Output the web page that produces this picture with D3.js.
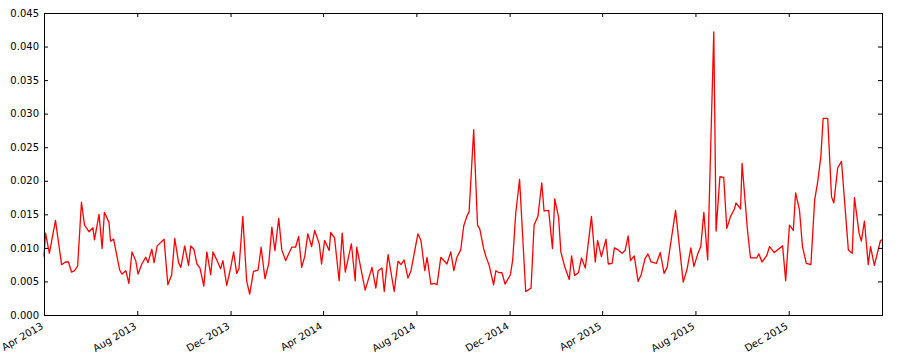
<!DOCTYPE html>
<html>
<head>
<meta charset="utf-8">
<script src="https://cdn.jsdelivr.net/npm/d3@7"></script>
<style>
  body { margin: 0; background: #fff; }
  text { font-family: "DejaVu Sans", sans-serif; }
</style>
</head>
<body>
<script>
//constants
const w = 899;
const h = 357;
const margin = {top: 13, right: 17, bottom: 42, left: 44};

//data: days since startDate, and the value on that day
const startDate = "2013-04-01";
const endDate = "2016-04-01";
const dayOffsets = [
  0,2,7,15,23,28,32,36,40,44,
  49,53,59,64,66,72,76,79,85,87,
  91,99,102,107,111,115,120,123,128,133,
  136,141,144,148,157,162,167,171,176,179,
  184,189,192,196,200,204,209,213,218,221,
  226,231,234,239,244,248,252,255,260,265,
  269,274,280,284,289,294,298,302,307,311,
  316,324,329,333,337,341,345,350,354,360,
  363,367,373,375,380,386,390,394,402,407,
  409,420,429,434,437,442,445,450,458,463,
  467,471,476,480,489,493,498,501,506,511,
  514,519,527,532,536,540,545,549,553,556,
  562,567,570,575,578,582,588,591,595,599,
  603,610,613,617,622,630,637,641,646,651,
  654,660,665,668,673,676,681,687,690,694,
  699,703,708,716,721,724,729,735,738,743,
  746,751,756,760,764,767,772,777,781,786,
  790,794,801,806,811,815,826,836,841,846,
  850,855,859,863,868,876,879,884,889,893,
  898,903,905,911,913,920,924,932,935,939,
  945,949,955,966,970,975,980,983,988,992,
  997,1003,1008,1012,1016,1019,1025,1030,1033,1038,
  1043,1052,1057,1060,1066,1069,1073,1078,1081,1086,
  1094,1096
];
const values = [
  .0087,.0122,.0092,.0141,.0075,.0079,.0079,.0064,.0066,.0073,
  .0168,.0134,.0124,.0130,.0112,.0150,.0099,.0153,.0138,.0110,
  .0113,.0067,.0061,.0066,.0047,.0094,.0081,.0061,.0076,.0086,
  .0078,.0098,.0078,.0103,.0113,.0045,.0060,.0114,.0078,.0071,
  .0103,.0074,.0103,.0098,.0076,.0070,.0043,.0094,.0060,.0094,
  .0082,.0069,.0081,.0044,.0070,.0094,.0062,.0069,.0147,.0051,
  .0031,.0065,.0067,.0101,.0054,.0077,.0131,.0096,.0144,.0097,
  .0081,.0101,.0101,.0117,.0071,.0087,.0121,.0102,.0126,.0106,
  .0076,.0111,.0096,.0123,.0115,.0051,.0122,.0064,.0106,.0051,
  .0101,.0037,.0071,.0040,.0066,.0070,.0035,.0090,.0035,.0080,
  .0075,.0082,.0055,.0066,.0121,.0111,.0066,.0086,.0046,.0047,
  .0045,.0086,.0076,.0094,.0066,.0086,.0097,.0133,.0147,.0154,
  .0276,.0134,.0128,.0099,.0087,.0075,.0045,.0066,.0063,.0063,
  .0046,.0060,.0082,.0152,.0202,.0035,.0040,.0134,.0147,.0197,
  .0155,.0156,.0099,.0173,.0146,.0094,.0072,.0053,.0088,.0059,
  .0063,.0085,.0070,.0147,.0079,.0111,.0087,.0113,.0076,.0077,
  .0100,.0097,.0092,.0096,.0118,.0081,.0088,.0050,.0060,.0084,
  .0091,.0079,.0077,.0093,.0062,.0071,.0156,.0049,.0068,.0100,
  .0072,.0091,.0102,.0153,.0082,.0422,.0125,.0206,.0205,.0129,
  .0147,.0158,.0167,.0158,.0226,.0127,.0085,.0085,.0091,.0079,
  .0088,.0102,.0093,.0103,.0051,.0134,.0126,.0182,.0157,.0102,
  .0077,.0075,.0172,.0199,.0236,.0293,.0293,.0176,.0167,.0219,
  .0229,.0097,.0092,.0175,.0122,.0110,.0140,.0075,.0102,.0074,
  .0111,.0112
];

//tick labels
const xTickDates = ["2013-04-01","2013-08-01","2013-12-01","2014-04-01","2014-08-01",
                    "2014-12-01","2015-04-01","2015-08-01","2015-12-01"];
const xTickLabels = ["Apr 2013","Aug 2013","Dec 2013","Apr 2014","Aug 2014",
                     "Dec 2014","Apr 2015","Aug 2015","Dec 2015"];
const yTicks = [0,0.005,0.010,0.015,0.020,0.025,0.030,0.035,0.040,0.045];

const parse = d3.timeParse("%Y-%m-%d");
const start = parse(startDate);

const n = Math.min(dayOffsets.length, values.length);
const data = d3.range(n).map(i => ({
  date: d3.timeDay.offset(start, dayOffsets[i]),
  value: values[i]
}));

const iw = w - margin.left - margin.right;
const ih = h - margin.top - margin.bottom;

//scales
const xScale = d3.scaleTime()
  .domain([start, parse(endDate)])
  .range([0, iw]);

const yScale = d3.scaleLinear()
  .domain([0, 0.045])
  .range([ih, 0]);

//svg
const svg = d3.select("body")
  .append("svg")
  .attr("width", w)
  .attr("height", h);

const g = svg.append("g")
  .attr("transform", "translate(" + margin.left + "," + margin.top + ")");

//line
const line = d3.line()
  .x(d => xScale(d.date))
  .y(d => yScale(d.value));

g.append("path")
  .datum(data)
  .attr("fill", "none")
  .attr("stroke", "#ff0000")
  .attr("stroke-width", 1.3)
  .attr("stroke-linejoin", "round")
  .attr("d", line);

//axes, ticks point inwards like matplotlib
const xDates = xTickDates.map(parse);
const fmtX = d => xTickLabels[xDates.findIndex(t => +t === +d)];

const xBottom = g.append("g")
  .attr("transform", "translate(0," + ih + ")")
  .call(d3.axisBottom(xScale).tickValues(xDates).tickSize(-4).tickFormat(fmtX));

xBottom.selectAll("text")
  .attr("font-size", 10)
  .attr("fill", "#000")
  .attr("text-anchor", "end")
  .attr("y", 0)
  .attr("dy", "0.7em")
  .attr("transform", "translate(-4,7) rotate(-30)");

g.append("g")
  .call(d3.axisTop(xScale).tickValues(xDates).tickSize(-4).tickFormat(""));

g.append("g")
  .call(d3.axisLeft(yScale).tickValues(yTicks).tickSize(-4).tickPadding(5)
        .tickFormat(d3.format(".3f")))
  .selectAll("text")
  .attr("font-size", 10)
  .attr("fill", "#000");

g.append("g")
  .attr("transform", "translate(" + iw + ",0)")
  .call(d3.axisRight(yScale).tickValues(yTicks).tickSize(-4).tickFormat(""));

g.selectAll(".domain").remove();
g.selectAll(".tick line").attr("stroke", "#000");

//frame
g.append("rect")
  .attr("x", 0.5)
  .attr("y", 0.5)
  .attr("width", iw)
  .attr("height", ih)
  .attr("fill", "none")
  .attr("stroke", "#000")
  .attr("stroke-width", 1)
  .attr("shape-rendering", "crispEdges");
</script>
</body>
</html>
